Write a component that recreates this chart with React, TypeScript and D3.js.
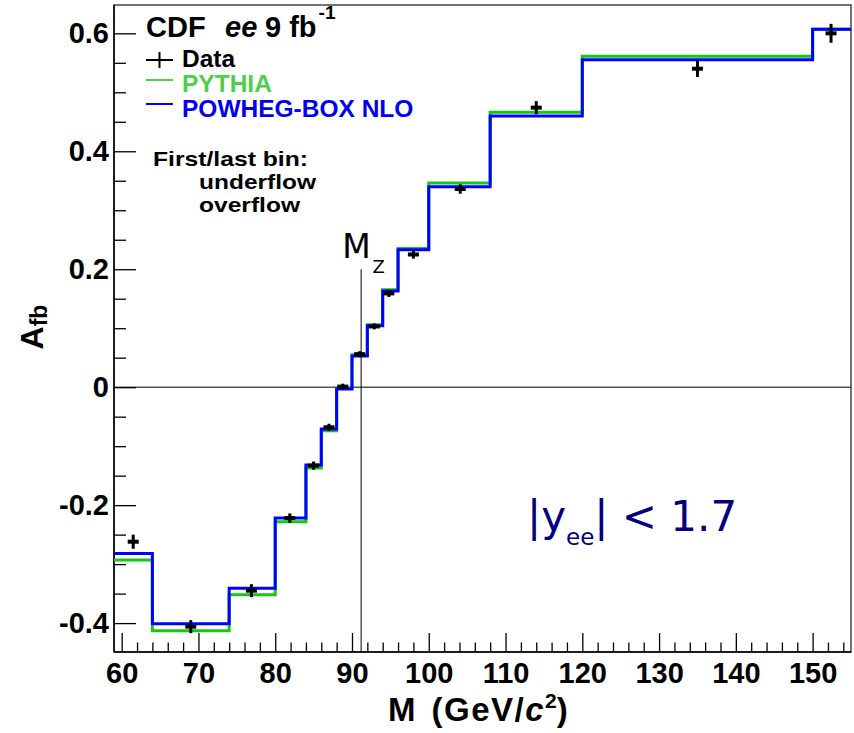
import React, { useEffect, useRef } from 'react';
import * as d3 from 'd3';

// bin edges (GeV/c^2); first/last bins hold underflow/overflow
const binEdges = [59, 64, 74, 80, 84, 86, 88, 90, 92, 94, 96, 100, 108, 120, 150, 155];
const pythia = [-0.293, -0.413, -0.352, -0.228, -0.137, -0.074, -0.001, 0.055, 0.106, 0.165, 0.235, 0.346, 0.466, 0.561, 0.607];
const powheg = [-0.282, -0.401, -0.341, -0.222, -0.132, -0.071, -0.003, 0.053, 0.104, 0.163, 0.233, 0.340, 0.460, 0.555, 0.607];

const dataMass = [61.5, 69, 76.9, 81.9, 85, 87, 88.8, 91, 92.9, 94.8, 98, 104.1, 114, 135, 152.4];
const dataAfb = [-0.262, -0.406, -0.345, -0.222, -0.133, -0.068, 0.001, 0.056, 0.103, 0.159, 0.225, 0.336, 0.474, 0.540, 0.600];
const dataErr = [0.012, 0.011, 0.011, 0.008, 0.007, 0.006, 0.005, 0.005, 0.005, 0.006, 0.007, 0.008, 0.011, 0.014, 0.016];

const xMajor = [60, 70, 80, 90, 100, 110, 120, 130, 140, 150];
const yMajor = [-0.4, -0.2, 0, 0.2, 0.4, 0.6];
const mZ = 91.19;

const HELV = '"Liberation Sans", Arial, Helvetica, sans-serif';
const DEJA = '"DejaVu Sans", sans-serif';

const App = () => {
  const ref = useRef<SVGSVGElement>(null);

  useEffect(() => {
    const W = 854, H = 733;
    const left = 114, right = 851, top = 5, bottom = 652;
    const svg = d3.select(ref.current);
    svg.selectAll('*').remove();
    svg.attr('width', W).attr('height', H);

    const x = d3.scaleLinear().domain([59, 155]).range([left, right]);
    const y = d3.scaleLinear().domain([-0.449, 0.648]).range([bottom, top]);

    svg.append('rect').attr('width', W).attr('height', H).attr('fill', 'white');

    // frame
    svg.append('rect')
      .attr('x', left).attr('y', top)
      .attr('width', right - left).attr('height', bottom - top)
      .attr('fill', 'none').attr('stroke', '#444').attr('stroke-width', 1.5);

    // x axis: minor every 2, major every 10
    const xMinor = d3.range(60, 156, 2).filter(v => v % 10 !== 0);
    const gx = svg.append('g').attr('transform', `translate(0,${bottom})`);
    gx.call(d3.axisBottom(x).tickValues(xMinor).tickSizeInner(-9.5).tickSizeOuter(0).tickFormat(() => ''));
    gx.select('.domain').remove();
    const gx2 = svg.append('g').attr('transform', `translate(0,${bottom})`);
    gx2.call(d3.axisBottom(x).tickValues(xMajor).tickSizeInner(-19).tickSizeOuter(0).tickPadding(10).tickFormat(d3.format('d')));
    gx2.select('.domain').remove();
    gx2.selectAll('text')
      .attr('font-family', HELV).attr('font-weight', 'bold').attr('font-size', 29).attr('fill', 'black');

    // y axis: minor every 0.05, major every 0.2
    const yMinor = d3.range(-8, 13).filter(i => i % 4 !== 0).map(i => i * 0.05);
    const gy = svg.append('g').attr('transform', `translate(${left},0)`);
    gy.call(d3.axisLeft(y).tickValues(yMinor).tickSizeInner(-12).tickSizeOuter(0).tickFormat(() => ''));
    gy.select('.domain').remove();
    const gy2 = svg.append('g').attr('transform', `translate(${left},0)`);
    gy2.call(d3.axisLeft(y).tickValues(yMajor).tickSizeInner(-22).tickSizeOuter(0).tickPadding(5)
      .tickFormat(d => (+d === 0 ? '0' : d3.format('.1f')(+d).replace('\u2212', '-'))));
    gy2.select('.domain').remove();
    gy2.selectAll('text')
      .attr('font-family', HELV).attr('font-weight', 'bold').attr('font-size', 29).attr('fill', 'black');
    svg.selectAll('.tick line').attr('stroke', 'black').attr('stroke-width', 1.3);

    svg.append('line').attr('x1', left).attr('x2', left).attr('y1', top).attr('y2', bottom).attr('stroke', 'black').attr('stroke-width', 1.5);
    svg.append('line').attr('x1', left).attr('x2', right).attr('y1', bottom).attr('y2', bottom).attr('stroke', 'black').attr('stroke-width', 1.5);

    // zero line and M_Z marker
    svg.append('line').attr('x1', left).attr('x2', right).attr('y1', y(0)).attr('y2', y(0)).attr('stroke', 'black').attr('stroke-width', 1);
    svg.append('line').attr('x1', x(mZ)).attr('x2', x(mZ)).attr('y1', y(0.2)).attr('y2', bottom).attr('stroke', 'black').attr('stroke-width', 1);
    const mzText = svg.append('text').attr('x', x(mZ) - 19).attr('y', 258).attr('font-family', DEJA).attr('fill', 'black');
    mzText.append('tspan').attr('font-size', 33).text('M');
    mzText.append('tspan').attr('font-size', 18).attr('dy', 15).attr('dx', 2).text('Z');

    // step histograms
    const stepPts = (vals: number[]) => [...vals.map((v, i) => [binEdges[i], v] as [number, number]), [binEdges[binEdges.length - 1], vals[vals.length - 1]] as [number, number]];
    const line = d3.line<[number, number]>().x(d => x(d[0])).y(d => y(d[1])).curve(d3.curveStepAfter);
    svg.append('path').attr('d', line(stepPts(pythia))).attr('fill', 'none').attr('stroke', '#14c814').attr('stroke-width', 3);
    svg.append('path').attr('d', line(stepPts(powheg))).attr('fill', 'none').attr('stroke', '#0000ff').attr('stroke-width', 3);

    // data points
    const pts = svg.append('g');
    dataMass.forEach((m, i) => {
      pts.append('line').attr('x1', x(m)).attr('x2', x(m))
        .attr('y1', y(dataAfb[i] - dataErr[i])).attr('y2', y(dataAfb[i] + dataErr[i]))
        .attr('stroke', 'black').attr('stroke-width', 3);
      pts.append('line').attr('x1', x(m) - 5.5).attr('x2', x(m) + 5.5)
        .attr('y1', y(dataAfb[i])).attr('y2', y(dataAfb[i]))
        .attr('stroke', 'black').attr('stroke-width', 4);
    });

    // legend / labels
    const title = svg.append('text').attr('x', 146).attr('y', 37).attr('font-family', HELV).attr('font-weight', 'bold').attr('fill', 'black').attr('font-size', 29);
    title.append('tspan').text('CDF');
    title.append('tspan').attr('x', 225).attr('font-style', 'italic').text('ee');
    title.append('tspan').attr('x', 265).text('9 fb');
    title.append('tspan').attr('dx', 2).attr('dy', -18).attr('font-size', 19).text('-1');

    svg.append('line').attr('x1', 146).attr('x2', 173).attr('y1', 60).attr('y2', 60).attr('stroke', 'black').attr('stroke-width', 2);
    svg.append('line').attr('x1', 159.5).attr('x2', 159.5).attr('y1', 52).attr('y2', 68).attr('stroke', 'black').attr('stroke-width', 2);
    svg.append('line').attr('x1', 146).attr('x2', 173).attr('y1', 80).attr('y2', 80).attr('stroke', '#4ccf4c').attr('stroke-width', 2);
    svg.append('line').attr('x1', 146).attr('x2', 173).attr('y1', 104).attr('y2', 104).attr('stroke', '#0000ff').attr('stroke-width', 2);

    const leg = [['Data', 'black', 67], ['PYTHIA', '#4ccf4c', 92], ['POWHEG-BOX NLO', '#0000ee', 117]];
    leg.forEach(([t, c, yy]) => {
      svg.append('text').attr('x', 182).attr('y', yy as number).attr('fill', c as string)
        .attr('font-family', HELV).attr('font-weight', 'bold').attr('font-size', 24.5).text(t as string);
    });

    const note = [['First/last bin:', 153, 166, 155], ['underflow', 199, 189, 117], ['overflow', 199, 212, 101]];
    note.forEach(([t, xx, yy, len]) => {
      svg.append('text').attr('x', xx as number).attr('y', yy as number).attr('fill', 'black')
        .attr('font-family', HELV).attr('font-weight', 'bold').attr('font-size', 20.5)
        .attr('textLength', len as number).attr('lengthAdjust', 'spacingAndGlyphs').text(t as string);
    });

    const cut = svg.append('text').attr('x', 527).attr('y', 531).attr('font-family', DEJA).attr('fill', '#000080').attr('font-size', 42);
    cut.append('tspan').text('|y');
    cut.append('tspan').attr('font-size', 23).attr('dy', 14).text('ee');
    cut.append('tspan').attr('dy', -14).text('| < 1.7');

    // axis titles
    const xt = svg.append('text').attr('x', 388).attr('y', 721).attr('font-family', HELV).attr('font-weight', 'bold').attr('font-size', 33).attr('fill', 'black');
    xt.append('tspan').text('M');
    xt.append('tspan').attr('dx', 16).attr('letter-spacing', 1.5).text('(GeV/');
    xt.append('tspan').attr('font-style', 'italic').attr('letter-spacing', 1.5).text('c');
    xt.append('tspan').attr('font-size', 21).attr('dy', -13).text('2');
    xt.append('tspan').attr('dy', 13).text(')');

    const yt = svg.append('text').attr('transform', 'translate(43,327) rotate(-90)').attr('text-anchor', 'middle')
      .attr('font-family', HELV).attr('font-weight', 'bold').attr('fill', 'black');
    yt.append('tspan').attr('font-size', 32).text('A');
    yt.append('tspan').attr('font-size', 23).attr('dy', 4).text('fb');
  }, []);

  return (
    <div style={{ position: 'absolute', left: 0, top: 0, width: 854, height: 733 }}>
      <svg ref={ref} style={{ display: 'block' }}></svg>
    </div>
  );
};

export default App;
